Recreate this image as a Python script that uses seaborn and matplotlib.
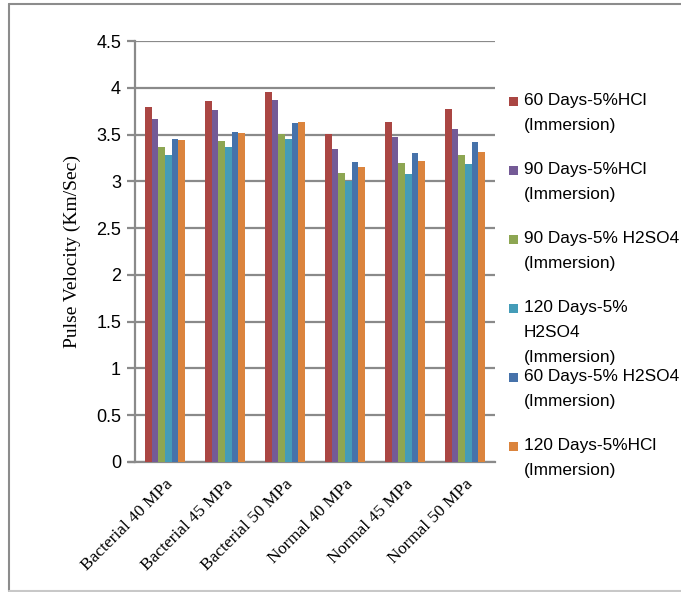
import matplotlib
matplotlib.use("Agg")
import matplotlib.pyplot as plt
from matplotlib.lines import Line2D
from matplotlib.patches import Rectangle
import numpy as np
import pandas as pd
import seaborn as sns

# Mix designs on the x axis
categories = ["Bacterial 40 MPa", "Bacterial 45 MPa", "Bacterial 50 MPa",
              "Normal 40 MPa", "Normal 45 MPa", "Normal 50 MPa"]

# Exposure series (legend labels, wrapped as shown)
series = ["60 Days-5%HCl\n(Immersion)",
          "90 Days-5%HCl\n(Immersion)",
          "90 Days-5% H2SO4\n(Immersion)",
          "120 Days-5%\nH2SO4\n(Immersion)",
          "60 Days-5% H2SO4\n(Immersion)",
          "120 Days-5%HCl\n(Immersion)"]

# Pulse velocity (Km/Sec) per series, one value per mix design
hcl_60 = [3.79, 3.86, 3.96, 3.51, 3.63, 3.77]
hcl_90 = [3.67, 3.76, 3.87, 3.35, 3.47, 3.56]
h2so4_90 = [3.37, 3.43, 3.51, 3.09, 3.20, 3.28]
h2so4_120 = [3.28, 3.37, 3.45, 3.00, 3.08, 3.18]
h2so4_60 = [3.45, 3.53, 3.62, 3.21, 3.30, 3.42]
hcl_120 = [3.44, 3.52, 3.63, 3.15, 3.22, 3.31]

y_ticks = [0, 0.5, 1, 1.5, 2, 2.5, 3, 3.5, 4, 4.5]

colors = ["#AA4643", "#745A96", "#8DA652", "#449CB8", "#4672AA", "#DB843D"]

values = [hcl_60, hcl_90, h2so4_90, h2so4_120, h2so4_60, hcl_120]
rows = []
for s, vals in zip(series, values):
    for c, v in zip(categories, vals):
        rows.append({"category": c, "series": s, "velocity": v})
df = pd.DataFrame(rows)

sns.set_theme(style="white")
plt.rcParams["font.family"] = ["Liberation Sans", "DejaVu Sans"]

fig = plt.figure(figsize=(6.81, 5.92), dpi=100)
ax = fig.add_axes([135 / 681, 1 - 462 / 592, 360 / 681, 421 / 592])

sns.barplot(data=df, x="category", y="velocity", hue="series",
            order=categories, hue_order=series, palette=colors,
            width=0.667, gap=0, saturation=1, linewidth=0,
            legend=False, ax=ax, zorder=3)

ax.set_xlim(-0.5, 5.5)
ax.set_ylim(0, 4.5)
ax.set_yticks(y_ticks)
ax.set_yticklabels([f"{t:g}" for t in y_ticks], fontsize=13, color="black")
ax.yaxis.grid(True, color="#8a8a8a", linewidth=1.6, zorder=0)
ax.set_axisbelow(True)

for side in ("top", "right"):
    ax.spines[side].set_visible(False)
ax.spines["left"].set_color("#8a8a8a")
ax.spines["left"].set_linewidth(1.6)
ax.spines["bottom"].set_color("#8a8a8a")
ax.spines["bottom"].set_linewidth(1.6)
ax.spines["bottom"].set_bounds(-0.6, 5.5)
ax.tick_params(axis="y", which="both", left=True, length=6, width=1.6,
               color="#8a8a8a", pad=4)
ax.tick_params(axis="x", which="both", bottom=False, length=0, pad=10)

ax.set_xlabel("")
ax.set_ylabel("Pulse Velocity (Km/Sec)", family=["Liberation Serif"],
              fontsize=14, color="black", labelpad=11)
ax.set_xticks(range(len(categories)))
ax.set_xticklabels(categories, rotation=45, ha="right", va="top",
                   rotation_mode="anchor", family=["Liberation Serif"],
                   fontsize=12.5, color="black")

# Legend to the right of the plot, one entry every 69 px
legend_top_px = 101
step_px = 69
for i, (label, col) in enumerate(zip(series, colors)):
    y_px = legend_top_px + i * step_px
    fig.patches.append(Rectangle((509 / 681, 1 - (y_px + 5) / 592),
                                 9 / 681, 9 / 592, transform=fig.transFigure,
                                 facecolor=col, edgecolor="none"))
    fig.text(524 / 681, 1 - (y_px - 8) / 592, label, fontsize=12.4,
             ha="left", va="top", linespacing=1.82, color="black")

# Chart frame
fig.add_artist(Line2D([8.5 / 681, 1], [1 - 3.5 / 592, 1 - 3.5 / 592],
                      transform=fig.transFigure, color="#8c8c8c", linewidth=1.5))
fig.add_artist(Line2D([8.5 / 681, 8.5 / 681], [1 - 3.5 / 592, 1 - 591 / 592],
                      transform=fig.transFigure, color="#8c8c8c", linewidth=1.5))
fig.add_artist(Line2D([8.5 / 681, 1], [1 - 591 / 592, 1 - 591 / 592],
                      transform=fig.transFigure, color="#c8c8c8", linewidth=1.5))

fig.savefig("out.png", dpi=100)
